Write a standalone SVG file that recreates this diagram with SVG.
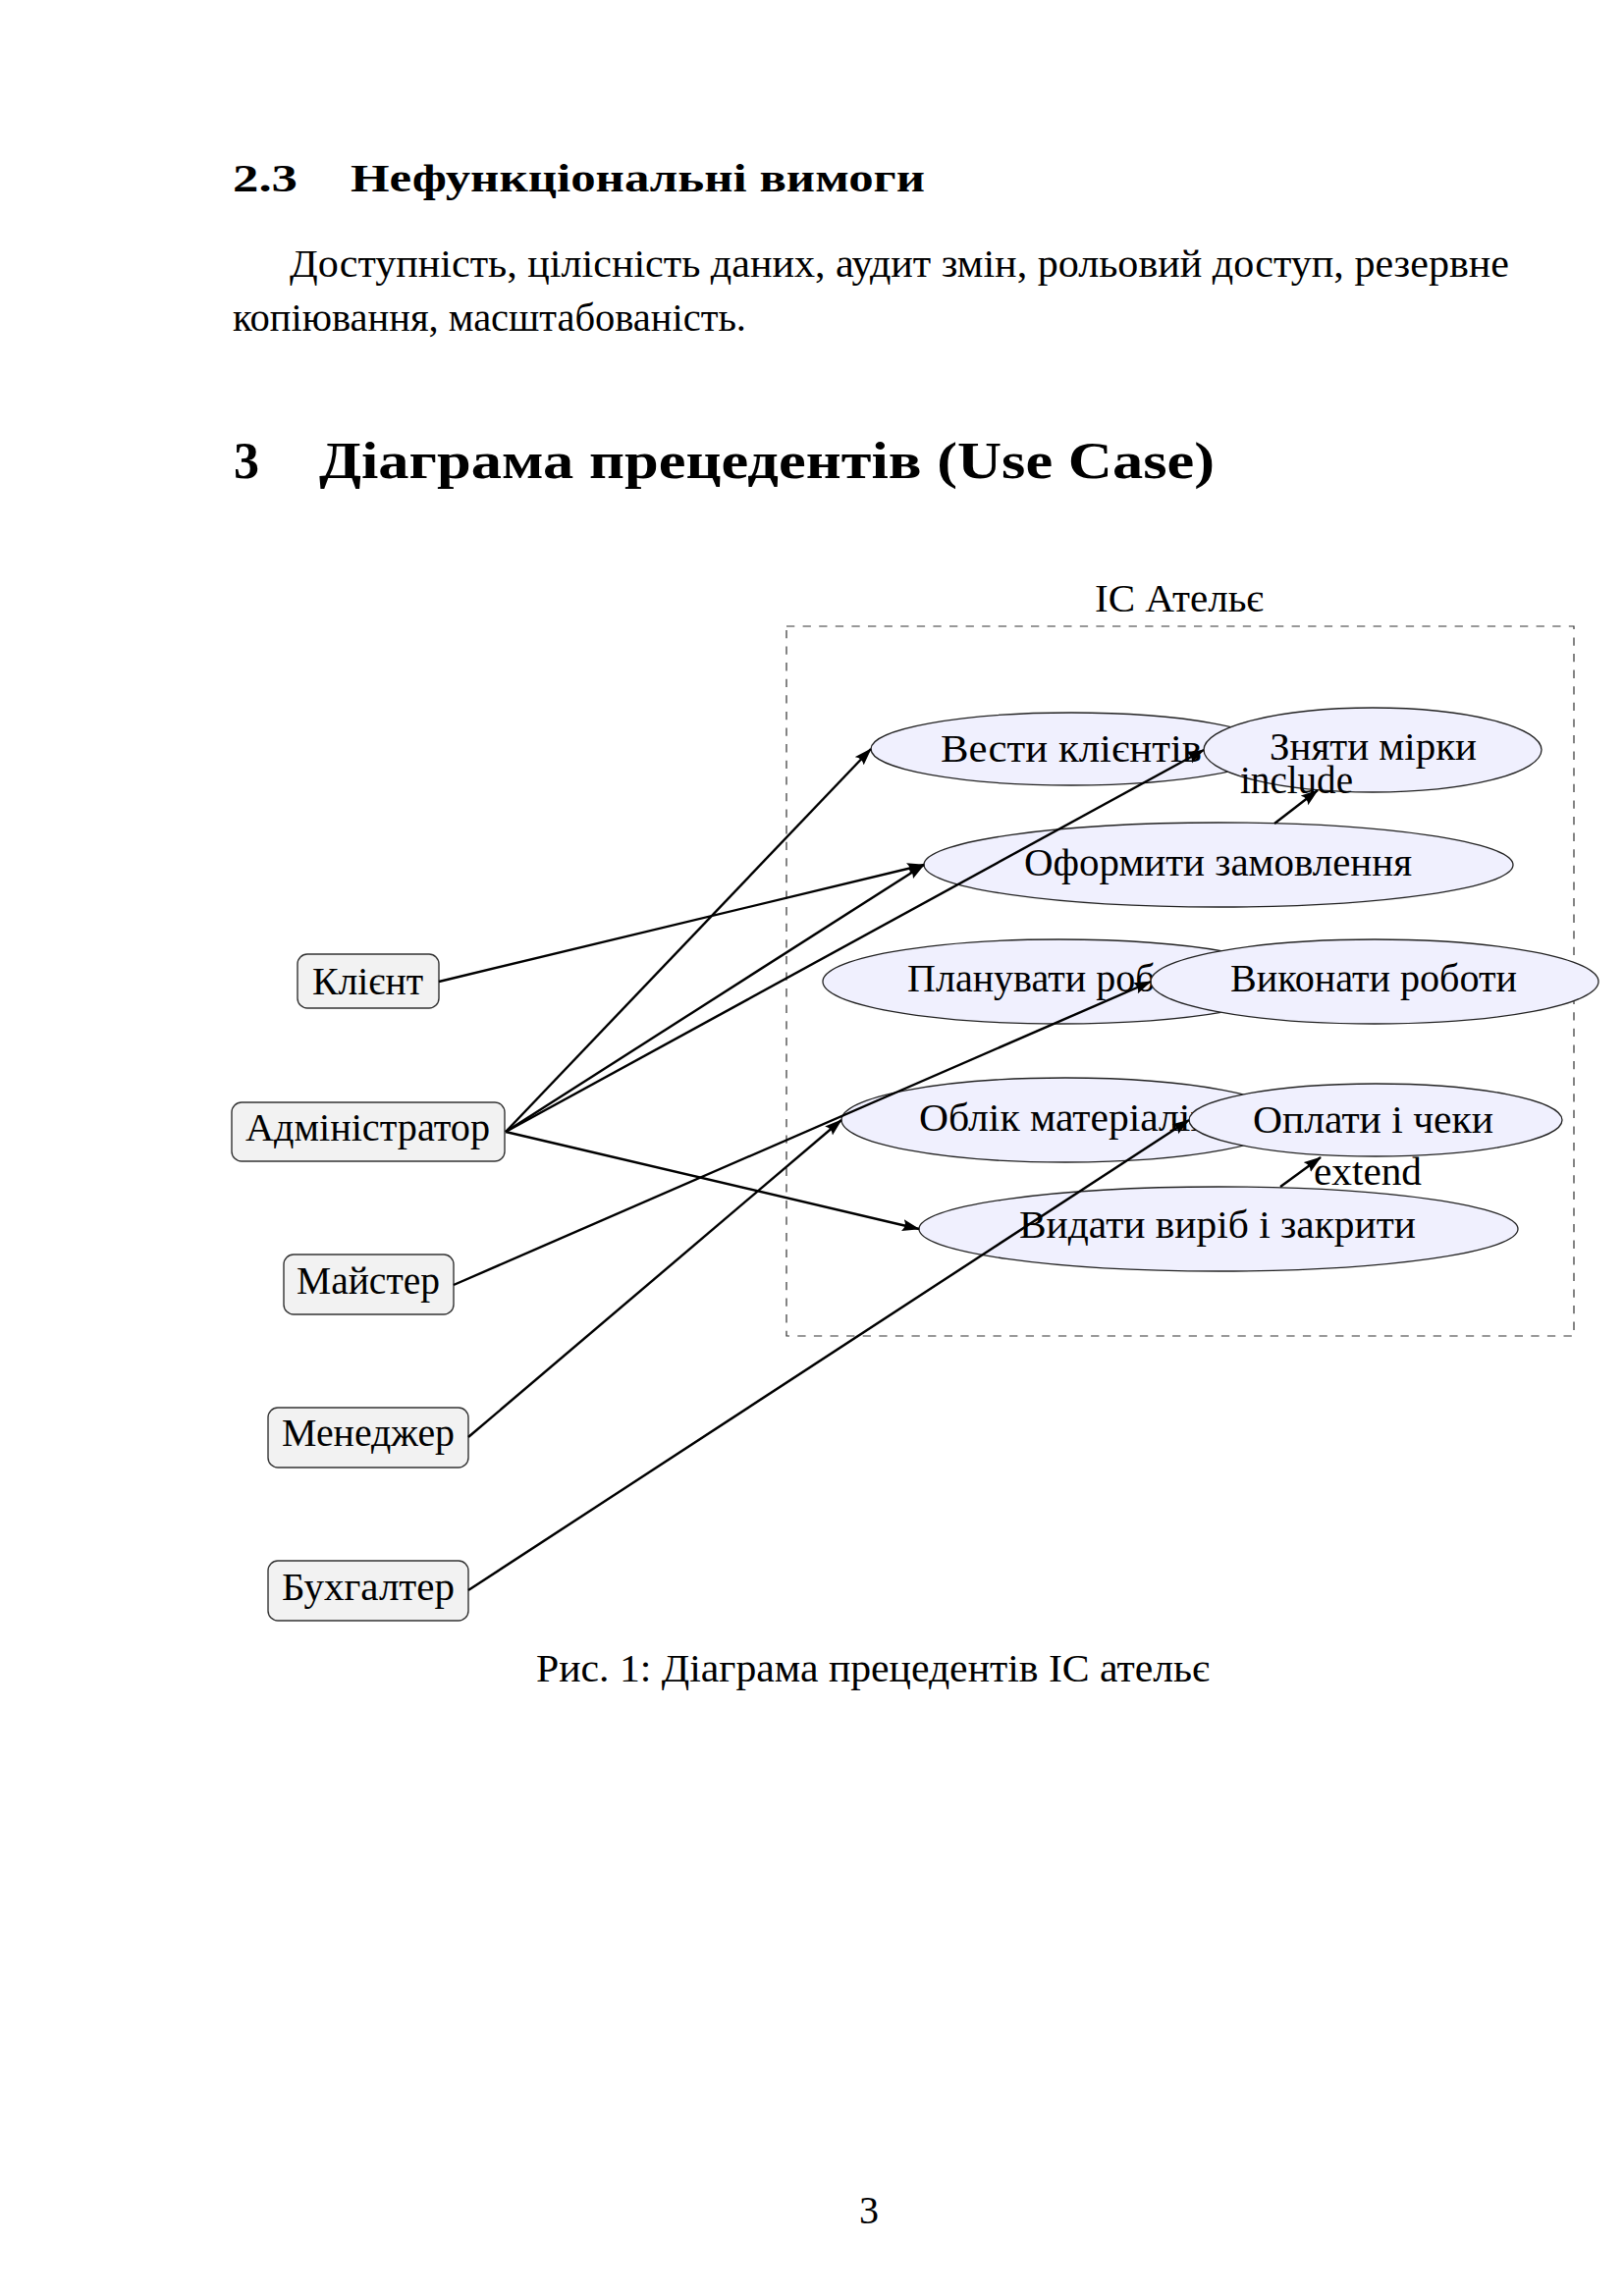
<svg xmlns="http://www.w3.org/2000/svg" width="1654" height="2339" viewBox="0 0 1654 2339">
<style>
text{font-family:"Liberation Serif","DejaVu Serif",serif;fill:#000}
.body{font-size:40px}
.h2{font-size:41px;font-weight:bold}
.h1{font-size:53px;font-weight:bold}
.lbl{font-size:40px}
.actor rect{fill:#f2f2f2;stroke:#333;stroke-width:1.4}
.uc ellipse{fill:#f0f0fe;stroke:#222;stroke-width:1.3}
.edge{stroke:#000;stroke-width:2.4;fill:none;marker-end:url(#arr)}
</style>
<defs>
<marker id="arr" viewBox="0 0 18 13" refX="17" refY="6.5" markerWidth="18" markerHeight="13" markerUnits="userSpaceOnUse" orient="auto">
<path d="M0,0.5 Q4.5,6.5 0,12.5 L18,6.5 Z" fill="#000"/>
</marker>
</defs>
<rect width="1654" height="2339" fill="#fff"/>

<g id="heading-2-3">
<text class="h2" x="237" y="195" textLength="66" lengthAdjust="spacingAndGlyphs">2.3</text>
<text class="h2" x="357" y="195" textLength="585" lengthAdjust="spacingAndGlyphs">Нефункціональні вимоги</text>
</g>
<g id="paragraph">
<text class="body" x="295" y="282" textLength="1242" lengthAdjust="spacingAndGlyphs">Доступність, цілісність даних, аудит змін, рольовий доступ, резервне</text>
<text class="body" x="237" y="337" textLength="523" lengthAdjust="spacingAndGlyphs">копіювання, масштабованість.</text>
</g>
<g id="heading-3">
<text class="h1" x="238" y="487" textLength="26" lengthAdjust="spacingAndGlyphs">3</text>
<text class="h1" x="325" y="487" textLength="912" lengthAdjust="spacingAndGlyphs">Діаграма прецедентів (Use Case)</text>
</g>

<g id="system-boundary">
<rect x="801" y="638" width="802" height="723" fill="none" stroke="#333" stroke-width="1.2" stroke-dasharray="8.3 8.3"/>
<text class="lbl" x="1115" y="623" textLength="172" lengthAdjust="spacingAndGlyphs">ІС Ательє</text>
</g>

<g id="actor-client" class="actor"><rect x="303" y="972" width="144" height="55" rx="10"/><text class="lbl" x="318" y="1013" textLength="113" lengthAdjust="spacingAndGlyphs">Клієнт</text></g>
<g id="actor-admin" class="actor"><rect x="236" y="1123" width="278" height="60" rx="10"/><text class="lbl" x="250" y="1162" textLength="249" lengthAdjust="spacingAndGlyphs">Адміністратор</text></g>
<g id="actor-master" class="actor"><rect x="289" y="1278" width="173" height="61" rx="10"/><text class="lbl" x="302" y="1318" textLength="146" lengthAdjust="spacingAndGlyphs">Майстер</text></g>
<g id="actor-manager" class="actor"><rect x="273" y="1434" width="204" height="61" rx="10"/><text class="lbl" x="287" y="1473" textLength="176" lengthAdjust="spacingAndGlyphs">Менеджер</text></g>
<g id="actor-accountant" class="actor"><rect x="273" y="1590" width="204" height="61" rx="10"/><text class="lbl" x="287" y="1630" textLength="176" lengthAdjust="spacingAndGlyphs">Бухгалтер</text></g>

<g id="uc-clients" class="uc"><ellipse cx="1091" cy="763" rx="204" ry="37"/><text class="lbl" x="958" y="776" textLength="266" lengthAdjust="spacingAndGlyphs">Вести клієнтів</text></g>
<g id="uc-measure" class="uc"><ellipse cx="1398" cy="764" rx="172" ry="43"/><text class="lbl" x="1293" y="774" textLength="211" lengthAdjust="spacingAndGlyphs">Зняти мірки</text></g>
<g id="uc-order" class="uc"><ellipse cx="1241" cy="881" rx="300" ry="43"/><text class="lbl" x="1043" y="892" textLength="395" lengthAdjust="spacingAndGlyphs">Оформити замовлення</text></g>
<g id="uc-plan" class="uc"><ellipse cx="1079" cy="1000" rx="241" ry="43"/><text class="lbl" x="924" y="1010" textLength="311" lengthAdjust="spacingAndGlyphs">Планувати роботи</text></g>
<g id="uc-do" class="uc"><ellipse cx="1400" cy="1000" rx="228" ry="43"/><text class="lbl" x="1253" y="1010" textLength="292" lengthAdjust="spacingAndGlyphs">Виконати роботи</text></g>
<g id="uc-materials" class="uc"><ellipse cx="1085" cy="1141" rx="228" ry="43"/><text class="lbl" x="936" y="1152" textLength="296" lengthAdjust="spacingAndGlyphs">Облік матеріалів</text></g>
<g id="uc-payments" class="uc"><ellipse cx="1401" cy="1141" rx="190" ry="37"/><text class="lbl" x="1276" y="1154" textLength="245" lengthAdjust="spacingAndGlyphs">Оплати і чеки</text></g>
<g id="uc-issue" class="uc"><ellipse cx="1241" cy="1252" rx="305" ry="43"/><text class="lbl" x="1038" y="1261" textLength="404" lengthAdjust="spacingAndGlyphs">Видати виріб і закрити</text></g>

<g id="connectors">
<path class="edge" d="M447,1000 L941,881"/>
<path class="edge" d="M515,1153 L887,763"/>
<path class="edge" d="M515,1153 L941,881"/>
<path class="edge" d="M515,1153 L1226,764"/>
<path class="edge" d="M515,1153 L936,1252"/>
<path class="edge" d="M462,1309 L1172,1000"/>
<path class="edge" d="M477,1464 L857,1141"/>
<path class="edge" d="M477,1620 L1211,1141"/>
<path class="edge" d="M1298,839 L1342,805"/>
<path class="edge" d="M1304,1209 L1345,1179"/>
<text class="lbl" x="1263" y="808" textLength="115" lengthAdjust="spacingAndGlyphs">include</text>
<text class="lbl" x="1338" y="1207" textLength="110" lengthAdjust="spacingAndGlyphs">extend</text>
</g>

<g id="caption">
<text class="body" x="546" y="1713" textLength="686" lengthAdjust="spacingAndGlyphs">Рис. 1: Діаграма прецедентів ІС ательє</text>
</g>
<g id="page-number">
<text class="body" x="875" y="2265">3</text>
</g>
</svg>
